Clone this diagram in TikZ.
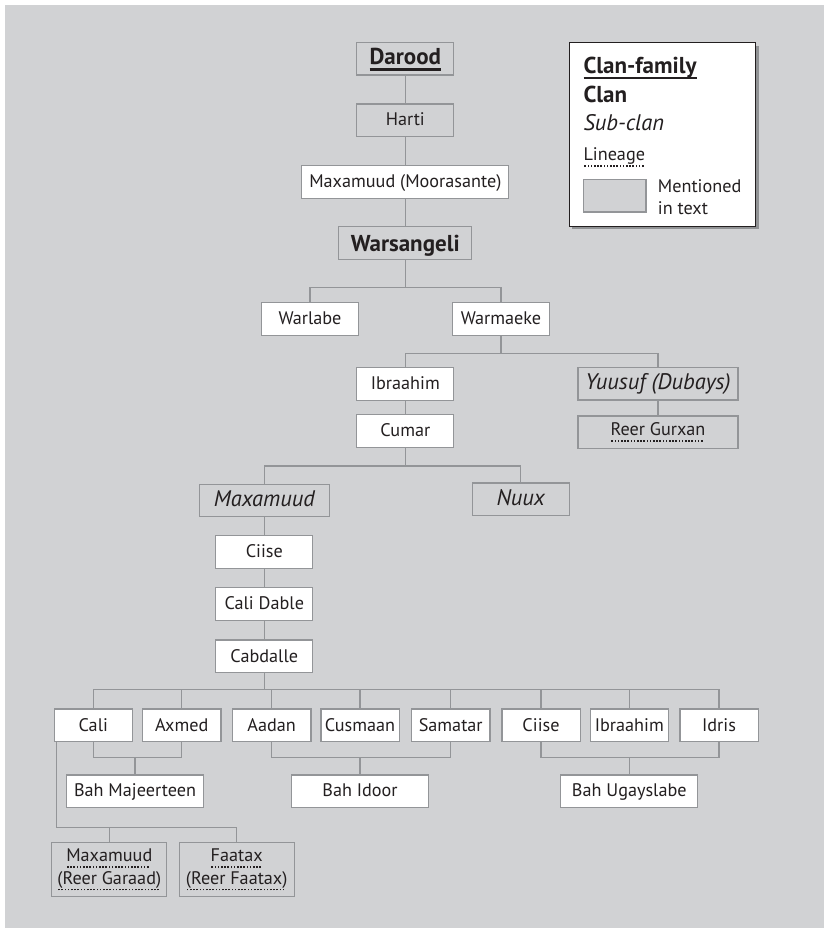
\documentclass[tikz,border=0pt]{standalone}
\usepackage{fontspec}
\setmainfont{PT Sans}
\usepackage{tikz}
\usetikzlibrary{shadows}
\definecolor{panel}{HTML}{D1D2D4}
\definecolor{frame}{HTML}{939598}
\definecolor{ink}{HTML}{231F20}
\definecolor{shade}{HTML}{808285}
\newsavebox{\ulbox}
% dotted underline (lineage) and thick underline (clan-family)
\newcommand{\dotul}[1]{\sbox\ulbox{#1}\rlap{\raisebox{-6.4pt}{\hbox to\wd\ulbox{\leaders\hbox to 3.2pt{\hss\rule{1.6pt}{1.6pt}\hss}\hfill}}}\usebox\ulbox}
\newcommand{\thickul}[1]{\sbox\ulbox{#1}\rlap{\rule[-6pt]{\wd\ulbox}{2.5pt}}\usebox\ulbox}
\tikzset{
  box/.style={draw=frame, line width=1.3pt, fill=white, text=ink, inner sep=0pt,
    minimum width=97pt, minimum height=32.5pt, font=\fontsize{18.2}{21}\selectfont,
    text height=13pt, text depth=1.6pt},
  told/.style={box, fill=panel},
  fam/.style={told, font=\fontsize{23}{26}\selectfont\bfseries, text height=16pt, text depth=3.4pt},
  clan/.style={told, font=\fontsize{23}{26}\selectfont\bfseries, text height=16pt, text depth=0pt},
  sub/.style={told, font=\fontsize{22.5}{26}\selectfont\itshape, text height=15.5pt, text depth=3pt},
  small/.style={box, minimum width=78.3pt},
  bah/.style={box, minimum width=137pt},
  pair/.style={told, minimum width=115pt, minimum height=54pt, align=center,
    font=\fontsize{18.2}{22.4}\selectfont, text height={}, text depth={}},
  link/.style={draw=frame, line width=1.3pt},
  legendbox/.style={draw=ink, line width=0.9pt, fill=white,
    drop shadow={shadow xshift=3pt, shadow yshift=-3pt, fill=shade, opacity=0.8}},
  legtext/.style={anchor=base west, inner sep=0pt, text=ink},
}
\begin{document}
\begin{tikzpicture}[x=1pt,y=-1pt]
  \useasboundingbox (0,0) rectangle (824,928);
  \fill[panel] (5,5) rectangle (824,928);

  % clan-family down to clan
  \node[fam] (darood) at (405.3,58.7) {\thickul{Darood}};
  \node[told] (harti) at (405.3,120.3) {Harti};
  \node[box, minimum width=207pt] (moor) at (405.3,182) {Maxamuud (Moorasante)};
  \node[clan, minimum width=133pt] (wars) at (405.3,243) {Warsangeli};
  \draw[link] (darood) -- (harti) -- (moor) -- (wars);

  \node[box] (warlabe) at (310,319) {Warlabe};
  \node[box] (warmaeke) at (501,319) {Warmaeke};
  \coordinate (b1) at (405.3,287.3);
  \draw[link] (wars.south) -- (b1);
  \draw[link] (warlabe.north) |- (b1) -| (warmaeke.north);

  \node[box] (ibra) at (405.3,384) {Ibraahim};
  \node[sub, minimum width=160pt] (yuusuf) at (658,383.7) {Yuusuf (Dubays)};
  \node[told, minimum width=160pt, text depth=6.4pt] (gurxan) at (658,432.2) {\dotul{Reer Gurxan}};
  \coordinate (b2) at (501,353.3);
  \draw[link] (warmaeke.south) -- (b2);
  \draw[link] (ibra.north) |- (b2) -| (yuusuf.north);
  \draw[link] (yuusuf) -- (gurxan);

  \node[box] (cumar) at (405.3,431) {Cumar};
  \draw[link] (ibra) -- (cumar);
  \node[sub, minimum width=130pt] (maxsub) at (264.3,500.5) {Maxamuud};
  \node[sub] (nuux) at (520.7,499.2) {Nuux};
  \coordinate (b3) at (405.3,466);
  \draw[link] (cumar.south) -- (b3);
  \draw[link] (maxsub.north) |- (b3) -| (nuux.north);

  \node[box] (ciise) at (264.3,552) {Ciise};
  \node[box] (calid) at (264.3,604) {Cali Dable};
  \node[box] (cabd) at (264.3,656.3) {Cabdalle};
  \draw[link] (maxsub) -- (ciise) -- (calid) -- (cabd);

  % sons of Cabdalle
  \foreach \n/\x/\lbl in {cali/93.3/Cali, axmed/181.7/Axmed, aadan/271.7/Aadan,
      cusmaan/360/Cusmaan, samatar/450.7/Samatar, ciiseb/541/Ciise,
      ibrab/629.3/Ibraahim, idris/719/Idris}
    \node[small] (\n) at (\x,725.3) {\lbl};
  \coordinate (b4) at (264.3,689.3);
  \draw[link] (cabd.south) -- (b4);
  \draw[link] (cali.north) |- (b4) -| (idris.north);
  \foreach \n in {axmed,aadan,cusmaan,samatar,ciiseb,ibrab}
    \draw[link] (\n.north) -- (\n.north |- b4);

  % groupings
  \node[bah] (bahmaj) at (135,791.2) {Bah Majeerteen};
  \node[bah] (bahidoor) at (360,791.2) {Bah Idoor};
  \node[bah] (bahugay) at (629.3,791.2) {Bah Ugayslabe};
  \coordinate (j1) at (0,757.7);
  \draw[link] (cali.south) |- (axmed.south |- j1) -- (axmed.south);
  \draw[link] (aadan.south) |- (samatar.south |- j1) -- (samatar.south);
  \draw[link] (ciiseb.south) |- (idris.south |- j1) -- (idris.south);
  \foreach \n in {bahmaj,bahidoor,bahugay}
    \draw[link] (\n.north) -- (\n.north |- j1);

  % lineages of Cali
  \node[pair] (garaad) at (109.3,869.7) {\dotul{Maxamuud}\\\dotul{(Reer Garaad)}};
  \node[pair] (faatax) at (236.7,869.7) {\dotul{Faatax}\\\dotul{(Reer Faatax)}};
  \coordinate (j2) at (0,827.7);
  \draw[link] ([xshift=3pt]cali.south west) |- (faatax.north |- j2) -- (faatax.north);
  \draw[link] (garaad.north) -- (garaad.north |- j2);

  % legend
  \node[legendbox, minimum width=186.4pt, minimum height=183.3pt] (legend) at (662.5,134.3) {};
  \node[legtext, font=\fontsize{23}{26}\selectfont\bfseries] (lfam) at (583.3,73.5) {\thickul{Clan-family}};
  \node[legtext, font=\fontsize{23}{26}\selectfont\bfseries] (lclan) at (583.3,102.3) {Clan};
  \node[legtext, font=\fontsize{22.5}{26}\selectfont\itshape] (lsub) at (583.3,130.7) {Sub-clan};
  \node[legtext, font=\fontsize{18.2}{21}\selectfont] (llin) at (583.3,160.7) {\dotul{Lineage}};
  \node[told, minimum width=62.7pt, minimum height=32.7pt] (lswatch) at (614.7,195.7) {};
  \node[anchor=west, inner sep=0pt, align=left, text=ink, font=\fontsize{18.2}{22.3}\selectfont] (lment) at (657.7,197) {Mentioned\\in text};
\end{tikzpicture}
\end{document}
